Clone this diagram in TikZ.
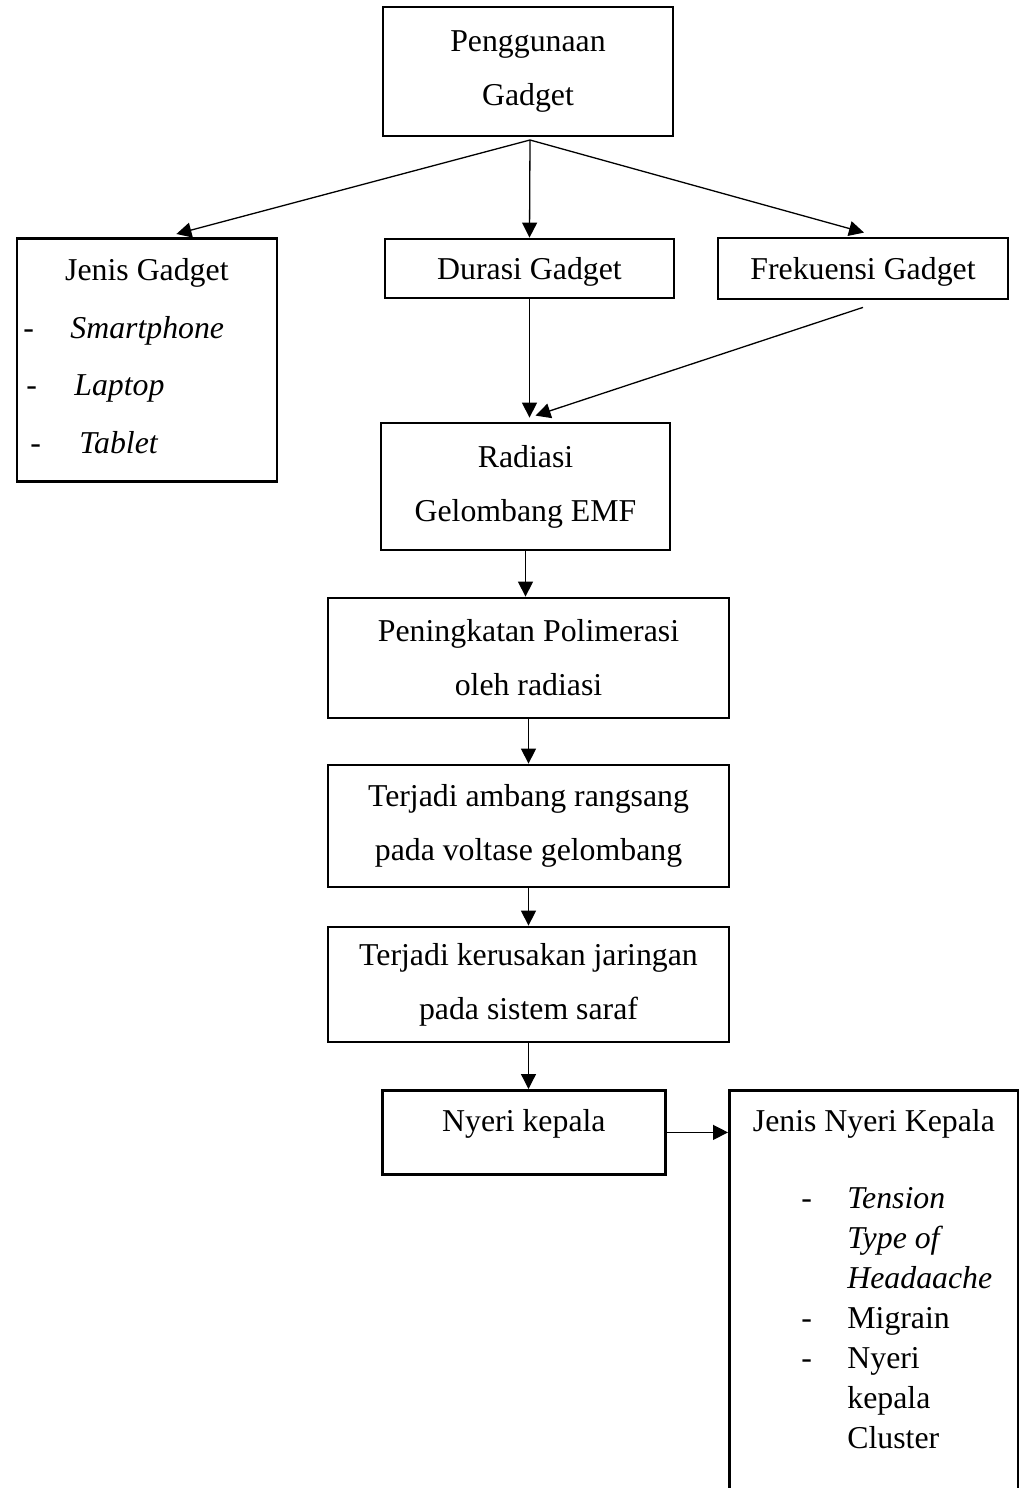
\documentclass[tikz,border=0pt]{standalone}
\usepackage{fontspec}
\setmainfont{Liberation Serif}
\usetikzlibrary{arrows.meta}

\newcommand{\butir}[3]{\makebox[#2][l]{\hspace*{#1}-}#3}

\begin{document}
\begin{tikzpicture}[
    x=1pt, y=-1pt,
    kotak/.style={
        draw,
        line width=2.8pt,
        align=center,
        font=\fontsize{31.8}{54}\selectfont,
        inner sep=0pt
    },
    panah/.style={
        -{Triangle[length=15pt,width=15pt]},
        line width=1.3pt
    }
]
\useasboundingbox (0,0) rectangle (1019,1488);

\node[kotak, minimum width=290pt, minimum height=129pt] (guna) at (528,71.5)
{Penggunaan\\Gadget};

\node[kotak, anchor=north west] (jenis) at (15.5,237)
{\parbox[c][243pt][t]{260pt}{%
    \makebox[\linewidth]{\rule{0pt}{42pt}Jenis Gadget}\\[3.7pt]
    \butir{6.5pt}{53.5pt}{\textit{Smartphone}}\\[3.7pt]
    \butir{9.5pt}{57.5pt}{\textit{Laptop}}\\[3.7pt]
    \butir{13.5pt}{62.5pt}{\textit{Tablet}}}};

\node[kotak, text depth=0pt, minimum width=289pt, minimum height=59pt] (durasi) at (529.5,268.5)
{Durasi Gadget};

\node[kotak, text depth=0pt, minimum width=290pt, minimum height=61pt] (frek) at (863,268.5)
{Frekuensi Gadget};

\node[kotak, minimum width=289pt, minimum height=127pt] (radiasi) at (525.5,486.5)
{Radiasi\\Gelombang EMF};

\node[kotak, minimum width=401pt, minimum height=120pt] (polimer) at (528.5,658)
{Peningkatan Polimerasi\\oleh radiasi};

\node[kotak, minimum width=401pt, minimum height=122pt] (ambang) at (528.5,826)
{Terjadi ambang rangsang\\pada voltase gelombang};

\node[kotak, minimum width=401pt, minimum height=115pt] (rusak) at (528.5,984.5)
{Terjadi kerusakan jaringan\\pada sistem saraf};

\node[kotak, anchor=north west] (nyeri) at (381,1089)
{\parbox[c][84pt][t]{283pt}{\centering\rule{0pt}{41pt}Nyeri kepala}};

\node[kotak, anchor=north west] (jenisnyeri) at (728,1089)
{\parbox[c][420pt][t]{289pt}{\fontsize{31.8}{40}\selectfont
    \makebox[\linewidth]{\rule{0pt}{41pt}Jenis Nyeri Kepala}\\[37pt]
    \butir{72pt}{118pt}{\textit{Tension}}\\
    \hspace*{118pt}\textit{Type of}\\
    \hspace*{118pt}\textit{Headaache}\\
    \butir{72pt}{118pt}{Migrain}\\
    \butir{72pt}{118pt}{Nyeri}\\
    \hspace*{118pt}kepala\\
    \hspace*{118pt}Cluster}};

\coordinate (fork) at (530,140);

\draw[panah] (fork) -- ([xshift=29.5pt,yshift=3pt]jenis.north);
\draw[panah] (fork) -- (durasi.north);
\draw[panah] (fork) -- ([xshift=1pt,yshift=4pt]frek.north);
\draw[panah] (durasi.south) -- ([yshift=4pt]radiasi.north -| durasi.south);
\draw[panah] ([yshift=-7pt]frek.south) -- ([xshift=10pt,yshift=6pt]radiasi.north);
\draw[panah] (radiasi.south) -- (radiasi.south |- polimer.north);
\draw[panah] (polimer.south) -- (ambang.north);
\draw[panah] (ambang.south) -- (rusak.north);
\draw[panah] (rusak.south) -- (rusak.south |- nyeri.north);
\draw[panah] (nyeri.east) -- (nyeri.east -| jenisnyeri.west);

\end{tikzpicture}
\end{document}
